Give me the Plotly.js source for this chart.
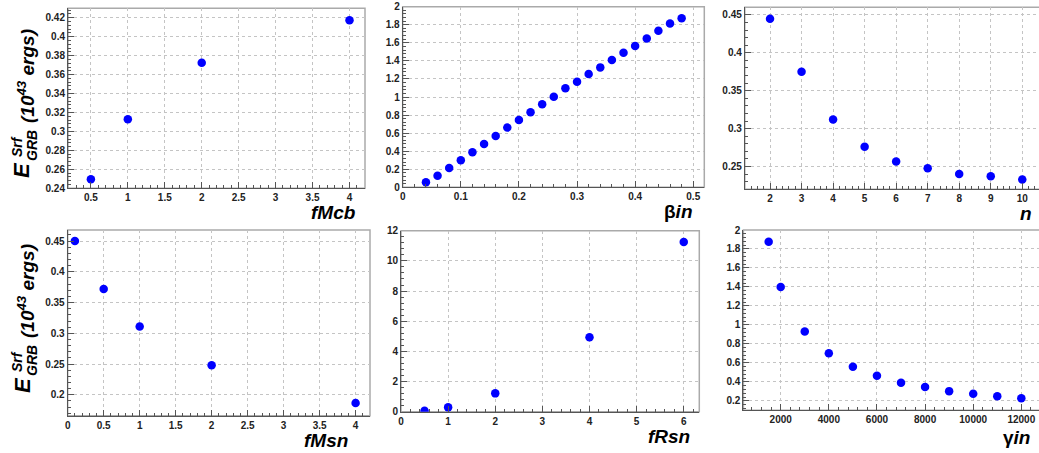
<!DOCTYPE html>
<html>
<head>
<meta charset="utf-8">
<script src="https://cdn.plot.ly/plotly-3.0.1.min.js"></script>
<style>
html,body{margin:0;padding:0;overflow:hidden;background:#fff;}
#plot{width:1050px;height:453px;}
</style>
</head>
<body>
<div id="plot"></div>
<script>
// ---- data ----
const fMcb_x = [0.5, 1, 2, 4];
const fMcb_y = [0.2495, 0.313, 0.3725, 0.4175];

const betaIn_x = [0.04,0.06,0.08,0.10,0.12,0.14,0.16,0.18,0.20,0.22,0.24,0.26,0.28,0.30,0.32,0.34,0.36,0.38,0.40,0.42,0.44,0.46,0.48];
const betaIn_y = [0.055,0.129,0.214,0.299,0.387,0.480,0.568,0.661,0.745,0.830,0.919,1.004,1.096,1.170,1.255,1.328,1.410,1.491,1.565,1.649,1.734,1.815,1.871];

const n_x = [2,3,4,5,6,7,8,9,10];
const n_y = [0.445,0.375,0.312,0.276,0.2566,0.2478,0.2403,0.2372,0.2328];

const fMsn_x = [0.1, 0.5, 1, 2, 4];
const fMsn_y = [0.450, 0.372, 0.311, 0.248, 0.1865];

const fRsn_x = [0.5, 1, 2, 4, 6];
const fRsn_y = [0.06, 0.287, 1.215, 4.93, 11.25];

const gammaIn_x = [1500,2000,3000,4000,5000,6000,7000,8000,9000,10000,11000,12000];
const gammaIn_y = [1.877,1.40,0.931,0.701,0.56,0.465,0.391,0.345,0.302,0.274,0.249,0.228];

const xTitles = ['<b><i>fMcb</i></b>', '<b>β<i>in</i></b>', '<b><i>n</i></b>',
                 '<b><i>fMsn</i></b>', '<b><i>fRsn</i></b>', '<b>γ<i>in</i></b>'];

// ---- layout helpers ----
const W = 1050, H = 453;
const fx = p => p / W;
const fy = p => 1 - p / H;

const panels = [
  {xs: fMcb_x, ys: fMcb_y, px:[68,365], py:[8.3,188.3], xr:[0.19,4.21], yr:[0.24,0.43], xd:0.5, xm:0.1, yd:0.02, ym:0.004, tshift:-7, bshift:-24},
  {xs: betaIn_x, ys: betaIn_y, px:[402.7,704.3], py:[6.7,187.3], xr:[0,0.519], yr:[0,2], xd:0.1, xm:0.02, yd:0.2, ym:0.04, tshift:-9, bshift:-24},
  {xs: n_x, ys: n_y, px:[744.8,1047.5], py:[7.3,189.3], xr:[1.2,10.8], yr:[0.22,0.46], xd:1, xm:0.2, yd:0.05, ym:0.01, tshift:-14, bshift:-24},
  {xs: fMsn_x, ys: fMsn_y, px:[67.7,370], py:[230,415.7], xr:[0,4.2], yr:[0.166,0.468], xd:0.5, xm:0.1, yd:0.05, ym:0.01, tshift:-20, bshift:-25},
  {xs: fRsn_x, ys: fRsn_y, px:[401,699.3], py:[230.7,411.7], xr:[0,6.33], yr:[0,12], xd:1, xm:0.2, yd:2, ym:0.4, tshift:-7, bshift:-25},
  {xs: gammaIn_x, ys: gammaIn_y, px:[743.4,1046.6], py:[230,410.3], xr:[450,13050], yr:[0.1,2.0], xd:2000, xm:400, yd:0.2, ym:0.04, tshift:-15, bshift:-27}
];

const tickFont = {family:'Liberation Sans, Arial, sans-serif', size:10, color:'#222', weight:'bold'};
const titleFont = {family:'Liberation Sans, Arial, sans-serif', size:19, color:'#000'};

const data = [];
const layout = {
  width: W, height: H,
  margin: {l:0, r:0, t:0, b:0},
  paper_bgcolor:'#fff', plot_bgcolor:'#fff',
  showlegend:false,
  separators: '.',
  shapes: [], annotations: []
};

panels.forEach((p, i) => {
  const k = i === 0 ? '' : String(i + 1);
  data.push({
    x: p.xs, y: p.ys, type:'scatter', mode:'markers',
    xaxis: 'x' + k, yaxis: 'y' + k,
    marker: {color:'#0000ff', size:8.5}
  });
  const common = {
    ticks:'inside', ticklen:6, tickcolor:'#555', tickwidth:1,
    showline:true, linecolor:'#555', linewidth:1,
    showgrid:true, gridcolor:'#c4c4c4', griddash:'dot', gridwidth:1,
    zeroline:false, tickfont: tickFont, fixedrange:true,
    exponentformat:'none', separatethousands:false
  };
  layout['xaxis' + k] = Object.assign({}, common, {
    domain:[fx(p.px[0]), fx(p.px[1])], range:p.xr, anchor:'y' + k,
    tick0:0, dtick:p.xd,
    minor:{tick0:0, dtick:p.xm, ticks:'inside', ticklen:3, tickcolor:'#555', showgrid:false}
  });
  if (p.xd >= 1000) layout['xaxis' + k].tickformat = 'd';
  layout['yaxis' + k] = Object.assign({}, common, {
    domain:[fy(p.py[1]), fy(p.py[0])], range:p.yr, anchor:'x' + k,
    tick0:0, dtick:p.yd,
    minor:{tick0:0, dtick:p.ym, ticks:'inside', ticklen:3, tickcolor:'#555', showgrid:false}
  });
  layout.shapes.push({
    type:'rect', xref:'x' + k + ' domain', yref:'y' + k + ' domain',
    x0:0, x1:1, y0:0, y1:1, line:{color:'#aaa', width:1.5}, layer:'below'
  });
  layout.annotations.push({
    text: xTitles[i], xref:'x' + k + ' domain', yref:'y' + k + ' domain',
    x:1, y:0, xanchor:'right', yanchor:'middle', xshift:p.tshift, yshift:p.bshift,
    showarrow:false, font:titleFont
  });
});

// y-axis titles (two rows), rotated
const yTitleFont = {family:'Liberation Sans, Arial, sans-serif', color:'#000', weight:'bold', style:'italic'};
[0, 215].forEach(dy => {
  const parts = [
    {t:'E', cx:22, cy:170, s:22},
    {t:'Srf', cx:17, cy:147, s:14},
    {t:'GRB', cx:32, cy:146, s:14},
    {t:'(10<sup>43</sup> ergs)', cx:26, cy:76, s:19}
  ];
  parts.forEach(q => {
    layout.annotations.push({
      text:q.t, xref:'paper', yref:'paper', x:fx(q.cx), y:fy(q.cy + dy),
      xanchor:'center', yanchor:'middle', textangle:-90, showarrow:false,
      font:Object.assign({size:q.s}, yTitleFont)
    });
  });
});

Plotly.newPlot('plot', data, layout, {displayModeBar:false, staticPlot:true});
</script>
</body>
</html>
